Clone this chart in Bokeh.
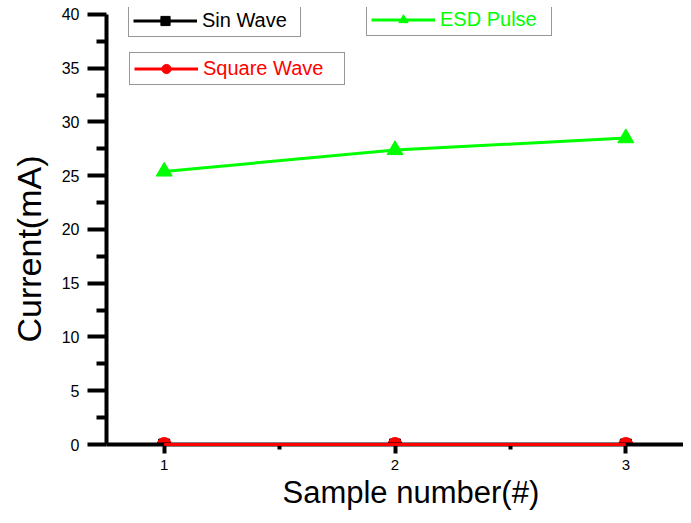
from bokeh.plotting import figure
from bokeh.models import Legend, LegendItem, Range1d, FixedTicker, Title
from bokeh.embed import file_html
from bokeh.resources import INLINE

samples = [1, 2, 3]
sin_wave = [0.0, 0.0, 0.0]
square_wave = [0.0, 0.0, 0.0]
esd_pulse = [25.4, 27.4, 28.5]
y_ticks = [0, 5, 10, 15, 20, 25, 30, 35, 40]
y_minor = [2.5, 7.5, 12.5, 17.5, 22.5, 27.5, 32.5, 37.5]
x_ticks = [1, 2, 3]
x_minor = [1.5, 2.5]

FONT = "Liberation Sans"
GREEN = "#00ff00"
RED = "#ff0000"

p = figure(width=683, height=515, output_backend="svg", toolbar_location=None,
           x_range=Range1d(0.75, 3.25), y_range=Range1d(0, 40.65),
           min_border_left=106, min_border_top=7, min_border_right=0,
           min_border_bottom=71)
p.outline_line_color = None
p.xgrid.visible = False
p.ygrid.visible = False
p.background_fill_color = "white"
p.border_fill_color = "white"

p.xaxis.ticker = FixedTicker(ticks=x_ticks, minor_ticks=x_minor)
p.yaxis.ticker = FixedTicker(ticks=y_ticks, minor_ticks=y_minor)
p.yaxis.bounds = (0, 40)
for ax in (p.xaxis[0], p.yaxis[0]):
    ax.axis_line_width = 4
    ax.axis_line_color = "black"
    ax.major_tick_line_width = 4
    ax.minor_tick_line_width = 4
    ax.major_tick_in = 0
    ax.minor_tick_in = 0
    ax.major_label_text_font = FONT
    ax.major_label_text_color = "black"

p.yaxis.major_tick_out = 19
p.yaxis.minor_tick_out = 10
p.yaxis.major_label_text_font_size = "16px"
p.yaxis.major_label_standoff = 8

p.xaxis.major_tick_out = 9
p.xaxis.minor_tick_out = 5
p.xaxis.major_label_text_font_size = "15px"
p.xaxis.major_label_standoff = 6

y_title = Title(text="Current(mA)", align="left", offset=102, standoff=18,
                vertical_align="top",
                text_font=FONT, text_font_size="34px", text_font_style="normal",
                text_color="black")
p.add_layout(y_title, "left")
x_title = Title(text="Sample number(#)", align="left", offset=176, standoff=0,
                text_font=FONT, text_font_size="31px", text_font_style="normal",
                text_color="black")
p.add_layout(x_title, "below")

# series
l_sin = p.line(samples, sin_wave, line_color="black", line_width=3, level="overlay")
s_sin = p.scatter(samples, sin_wave, marker="square", size=11, color="black")
l_esd = p.line(samples, esd_pulse, line_color=GREEN, line_width=3)
s_esd = p.scatter(samples, esd_pulse, marker="triangle", size=16, color=GREEN)
l_sq = p.line(samples, square_wave, line_color=RED, line_width=3, level="overlay")
s_sq = p.scatter(samples, square_wave, marker="circle", size=14, color=RED)


def make_legend(label, renderers, color, loc, label_w):
    lg = Legend(items=[LegendItem(label=label, renderers=renderers)],
                location=loc, orientation="vertical")
    lg.label_text_font = FONT
    lg.label_text_font_size = "20px"
    lg.label_text_color = color
    lg.label_height = 20
    lg.label_width = label_w
    lg.glyph_height = 23
    lg.glyph_width = 64
    lg.label_standoff = 5
    lg.padding = 4
    lg.margin = 0
    lg.spacing = 0
    lg.border_line_color = "#303030"
    lg.border_line_width = 1
    lg.background_fill_color = "white"
    lg.background_fill_alpha = 1
    p.add_layout(lg, "center")
    return lg


make_legend("Sin Wave", [l_sin, s_sin], "black", (22, 407), 94)
make_legend("ESD Pulse", [l_esd, s_esd], GREEN, (260, 408), 107)
make_legend("Square Wave", [l_sq, s_sq], RED, (23, 359), 137)

open("out.html", "w").write(file_html(p, INLINE))
